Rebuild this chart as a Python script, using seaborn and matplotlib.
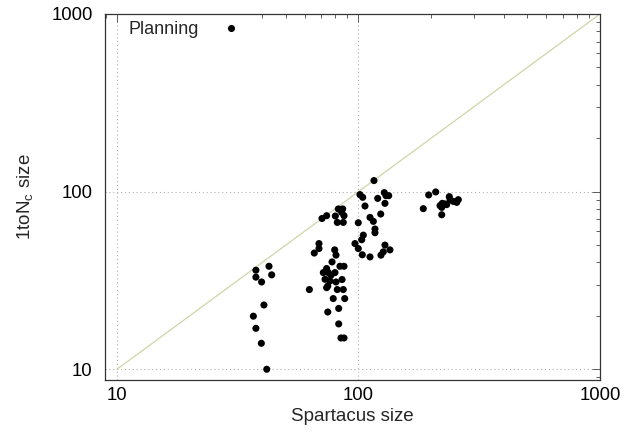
import matplotlib
matplotlib.use("Agg")
import matplotlib.pyplot as plt
import matplotlib.ticker as mticker
import seaborn as sns
import numpy as np
import pandas as pd

spartacus = [
    37.6, 42.6, 37.6, 43.7, 39.7, 40.6, 36.7, 37.6, 39.6, 41.7,
    82.5, 86.0, 85.2, 87.1, 80.2, 73.8, 70.6, 81.7, 86.5,
    68.6, 68.6, 65.6, 79.7, 80.7, 77.7, 83.8, 87.1, 73.8, 71.5,
    75.0, 76.9, 79.9, 72.7, 76.2, 80.7, 85.5, 74.6, 73.8, 81.7,
    86.5, 62.6, 78.6, 87.7, 82.8, 74.6, 82.8, 84.6, 87.1,
    115.9, 101.4, 104.1, 120.1, 127.9, 130.0, 133.4, 128.7, 106.4, 123.6,
    111.6, 115.2, 99.8, 117.0, 117.0, 104.7, 103.1, 96.7, 99.8, 128.7,
    135.0, 126.7, 123.9, 103.7, 111.6,
    195.3, 208.8, 185.5, 221.1, 217.6, 222.3, 228.1, 237.7, 239.3, 231.8,
    246.9, 259.0, 255.1, 221.1,
]
onetonc = [
    36.1, 38.0, 33.0, 34.0, 31.0, 23.0, 19.9, 17.0, 14.0, 10.0,
    79.9, 79.9, 76.4, 73.2, 72.9, 73.2, 70.6, 67.1, 67.1,
    51.0, 47.8, 45.1, 47.0, 43.9, 40.2, 38.0, 38.0, 36.9, 35.0,
    35.0, 33.8, 35.0, 32.1, 31.4, 31.0, 32.0, 29.4, 28.8, 28.1,
    28.1, 28.1, 25.0, 25.0, 22.0, 21.0, 18.0, 15.0, 15.0,
    115.4, 96.2, 92.9, 91.6, 98.7, 94.9, 94.9, 85.9, 83.0, 74.8,
    71.6, 68.0, 66.8, 61.6, 58.7, 56.9, 53.6, 51.0, 47.8, 50.0,
    47.0, 45.8, 43.9, 44.1, 42.9,
    95.8, 99.6, 80.2, 74.1, 83.4, 85.9, 85.2, 93.7, 89.8, 84.5,
    88.1, 90.1, 87.0, 81.5,
]
series_name = "Planning"
diag = [10, 1000]
major_ticks = [10, 100, 1000]
tick_labels = ["10", "100", "1000"]

df = pd.DataFrame({"Spartacus size": spartacus, "1toNc size": onetonc,
                   "set": series_name})

sns.set_theme(style="white")
plt.rcParams["font.family"] = ["Liberation Sans", "DejaVu Sans"]

fig = plt.figure(figsize=(6.39, 4.32), dpi=100)
ax = fig.add_axes([105 / 639, 1 - 380 / 432, 495 / 639, 366 / 432])

ax.set_xscale("log")
ax.set_yscale("log")
ax.set_xlim(8.92, 1000)
ax.set_ylim(8.7, 1000)

# grid at major decades
for v in [10, 100]:
    ax.axvline(v, color="#b0b0b0", lw=0.8, ls=(0, (1, 2.5)), zorder=0)
    ax.axhline(v, color="#b0b0b0", lw=0.8, ls=(0, (1, 2.5)), zorder=0)

sns.lineplot(x=diag, y=diag, ax=ax, color="#cfd5a8", lw=0.9, zorder=1,
             legend=False)
sns.scatterplot(data=df, x="Spartacus size", y="1toNc size", hue="set",
                palette=["black"], s=26, edgecolor="none", ax=ax, zorder=3)

ax.xaxis.set_major_locator(mticker.FixedLocator(major_ticks))
ax.xaxis.set_major_formatter(mticker.FixedFormatter(tick_labels))
ax.yaxis.set_major_locator(mticker.FixedLocator(major_ticks))
ax.yaxis.set_major_formatter(mticker.FixedFormatter(tick_labels))
ax.xaxis.set_minor_locator(mticker.LogLocator(base=10, subs=np.arange(2, 10)))
ax.yaxis.set_minor_locator(mticker.LogLocator(base=10, subs=np.arange(2, 10)))
ax.xaxis.set_minor_formatter(mticker.NullFormatter())
ax.yaxis.set_minor_formatter(mticker.NullFormatter())
ax.tick_params(which="both", direction="in", top=True, right=True,
               color="#444444", width=0.6, labelsize=13.3, colors="black")
ax.tick_params(which="major", length=6)
ax.tick_params(which="minor", length=3)
ax.tick_params(axis="y", which="major", pad=9)
ax.tick_params(axis="x", which="major", pad=5)

for sp in ax.spines.values():
    sp.set_color("#333333")
    sp.set_linewidth(0.9)
    sp.set_zorder(4)

ax.set_xlabel("Spartacus size", fontsize=13.5, labelpad=3)
ax.set_ylabel("1toN$_\\mathregular{c}$ size", fontsize=13.5, labelpad=11)

leg = ax.legend(loc="upper left", bbox_to_anchor=(0.033, 1.0),
                markerfirst=False, frameon=True,
                fontsize=13, handletextpad=0.77, borderaxespad=0.0,
                borderpad=0.4, markerscale=1.0)
leg.get_frame().set_edgecolor("none")
leg.get_frame().set_facecolor("white")
leg.get_frame().set_alpha(1)
leg.get_frame().set_boxstyle("square", pad=0)
leg.set_zorder(2)

fig.savefig("out.png", dpi=100)
